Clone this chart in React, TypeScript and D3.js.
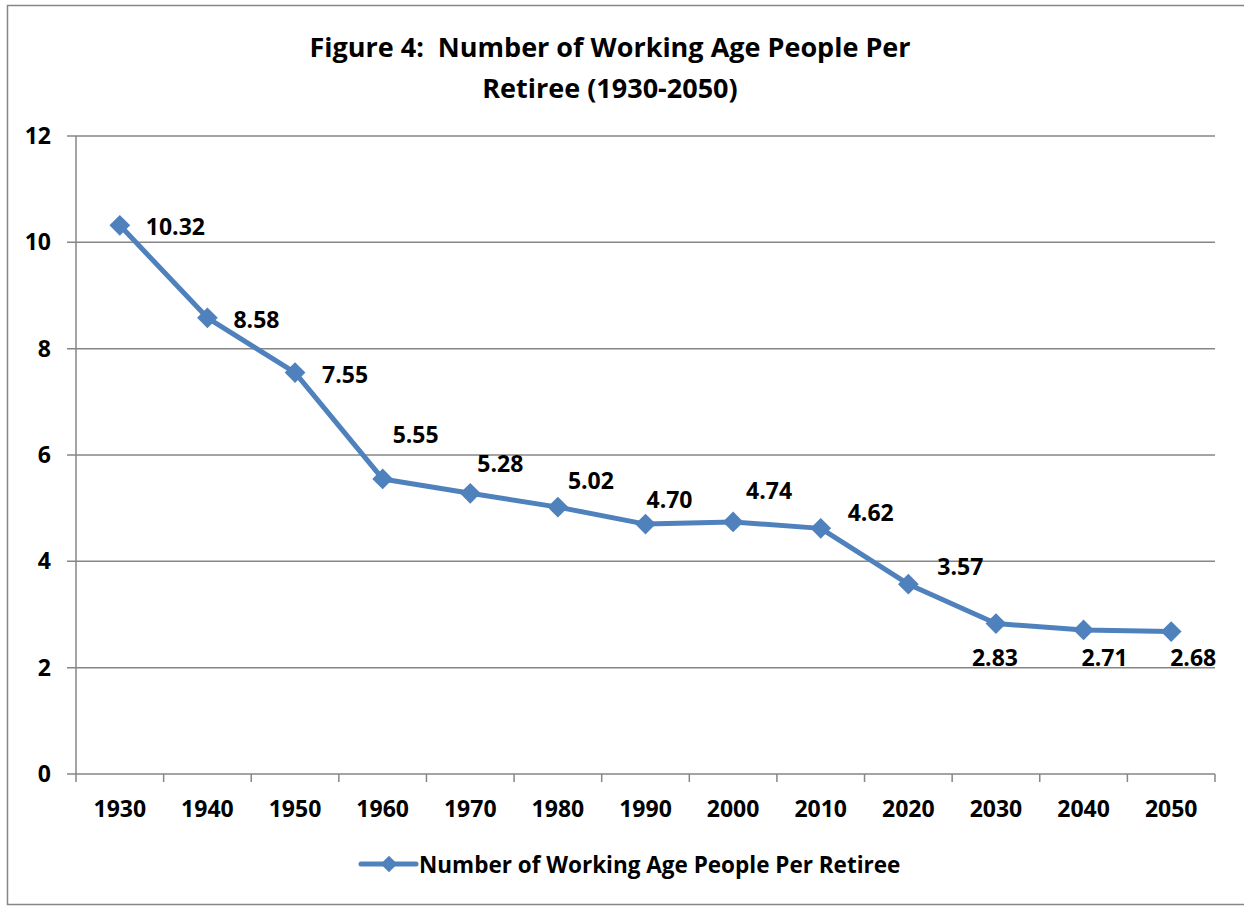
import * as d3 from "d3";

const years = ["1930", "1940", "1950", "1960", "1970", "1980", "1990", "2000", "2010", "2020", "2030", "2040", "2050"];
const workersPerRetiree = [10.32, 8.58, 7.55, 5.55, 5.28, 5.02, 4.7, 4.74, 4.62, 3.57, 2.83, 2.71, 2.68];
const yTicks = [0, 2, 4, 6, 8, 10, 12];
const seriesName = "Number of Working Age People Per Retiree";

// hand placed label offsets (dx, dy from the marker), as in the original sheet
const labelOffsets: [number, number][] = [
  [26, 2], [26, 2], [27, 2], [10, -44], [7, -29], [10, -26],
  [1, -24], [13, -31], [27, -15], [29, -17], [-24, 34], [-2, 28], [-1, 26],
];

const W = 1244;
const H = 907;
const margin = { top: 136, right: 29, bottom: 133, left: 76 };
const font = "'Open Sans', Lato, sans-serif";
const blue = "#4F81BD";
const grey = "#868686";

export default function App() {
  const x = d3
    .scaleBand<string>()
    .domain(years)
    .range([margin.left, W - margin.right]);
  const y = d3
    .scaleLinear()
    .domain([0, 12])
    .range([H - margin.bottom, margin.top]);

  const cx = (i: number) => (x(years[i]) as number) + x.bandwidth() / 2;
  const line = d3
    .line<number>()
    .x((_, i) => cx(i))
    .y((d) => y(d));

  // square turned 45 degrees, like the spreadsheet's diamond marker
  const marker = d3.symbol(d3.symbolSquare, 215);
  const legendMarker = d3.symbol(d3.symbolSquare, 140);
  const x0 = margin.left;
  const x1 = W - margin.right;

  return (
    <div style={{ position: "absolute", left: 0, top: 0 }}>
      <svg width={W} height={H} style={{ display: "block", fontFamily: font }}>
        <rect x={0} y={0} width={W} height={H} fill="white" />
        <rect x={7.5} y={5.5} width={W + 10} height={899} fill="none" stroke={grey} strokeWidth={1.5} />

        <text x={610} y={57} textAnchor="middle" fontSize={27} fontWeight="bold" style={{ whiteSpace: "pre" }}>
          {"Figure 4:  Number of Working Age People Per"}
        </text>
        <text x={610} y={98} textAnchor="middle" fontSize={27} fontWeight="bold">
          Retiree (1930-2050)
        </text>

        {yTicks.map((t) => (
          <g key={t}>
            <line x1={x0 - 9} x2={x1} y1={y(t)} y2={y(t)} stroke={grey} strokeWidth={1.5} />
            <text x={51} y={y(t)} dy="0.35em" textAnchor="end" fontSize={23} fontWeight="bold">
              {t}
            </text>
          </g>
        ))}
        <line x1={x0} x2={x0} y1={y(12)} y2={y(0)} stroke={grey} strokeWidth={1.5} />

        {years.map((yr, i) => (
          <g key={yr}>
            <line
              x1={x(yr) as number}
              x2={x(yr) as number}
              y1={y(0)}
              y2={y(0) + 8}
              stroke={grey}
              strokeWidth={1.5}
            />
            <text x={cx(i)} y={y(0) + 35} dy="0.35em" textAnchor="middle" fontSize={23} fontWeight="bold">
              {yr}
            </text>
          </g>
        ))}
        <line x1={x1} x2={x1} y1={y(0)} y2={y(0) + 8} stroke={grey} strokeWidth={1.5} />

        <path d={line(workersPerRetiree) ?? ""} fill="none" stroke={blue} strokeWidth={5} strokeLinejoin="round" />
        {workersPerRetiree.map((v, i) => (
          <path key={i} d={marker() ?? ""} transform={`translate(${cx(i)},${y(v)}) rotate(45)`} fill={blue} />
        ))}
        {workersPerRetiree.map((v, i) => (
          <text
            key={i}
            x={cx(i) + labelOffsets[i][0]}
            y={y(v) + labelOffsets[i][1]}
            dy="0.35em"
            fontSize={23}
            fontWeight="bold"
          >
            {v.toFixed(2)}
          </text>
        ))}

        <g transform="translate(361,864)">
          <line x1={0} x2={55} y1={0} y2={0} stroke={blue} strokeWidth={5} strokeLinecap="round" />
          <path d={legendMarker() ?? ""} transform="translate(28,0) rotate(45)" fill={blue} />
          <text x={58} y={1} dy="0.35em" fontSize={22.5} fontWeight="bold">
            {seriesName}
          </text>
        </g>
      </svg>
    </div>
  );
}
